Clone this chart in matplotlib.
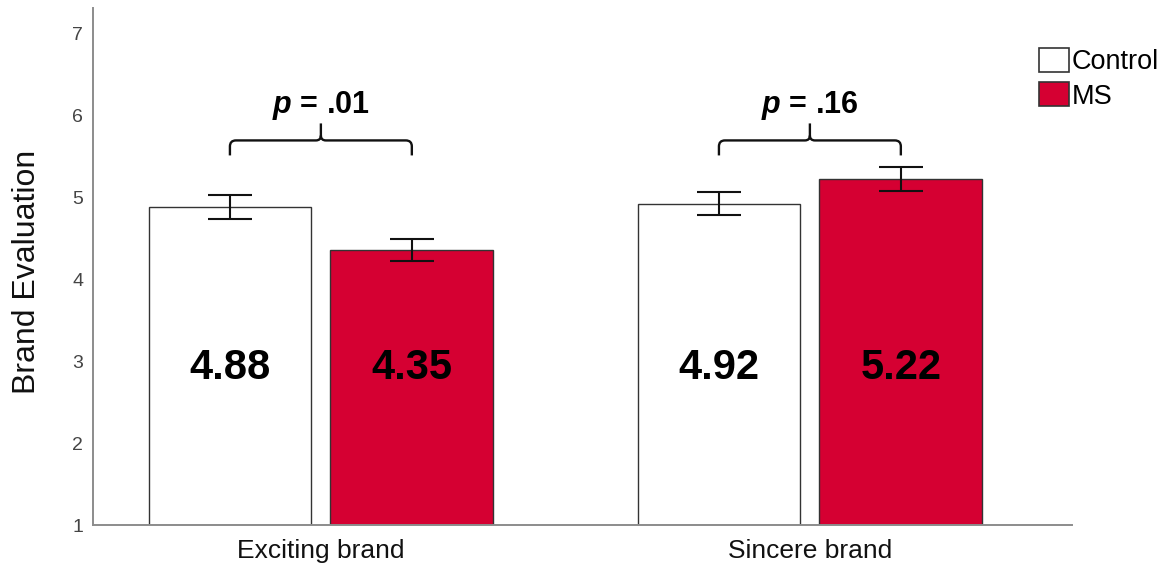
import matplotlib
matplotlib.use('Agg')
import matplotlib.pyplot as plt
from matplotlib.patches import Patch, PathPatch
from matplotlib.path import Path
import numpy as np

plt.rcParams['font.family'] = ['Liberation Sans', 'DejaVu Sans']
plt.rcParams['mathtext.fontset'] = 'custom'
plt.rcParams['mathtext.rm'] = 'Liberation Sans:bold'
plt.rcParams['mathtext.it'] = 'Liberation Sans:italic:bold'
plt.rcParams['mathtext.bf'] = 'Liberation Sans:bold'

# ---- data ----
categories = ['Exciting brand', 'Sincere brand']
groups = ['Control', 'MS']
control_means = [4.88, 4.92]
ms_means = [4.35, 5.22]
control_err = [0.15, 0.135]
ms_err = [0.135, 0.145]
p_values = ['.01', '.16']
yticks = [1, 2, 3, 4, 5, 6, 7]

bar_colors = ['white', '#D50032']
edge_color = '#333333'

W, H = 1163, 565
fig = plt.figure(figsize=(W / 100, H / 100), dpi=100)
ax = fig.add_axes([93 / W, 40 / H, 979 / W, 517 / H])

x = np.arange(len(categories))
off = 0.186
bw = 0.333
xlim = (-0.466, 1.536)
ylim = (1, 7.305)
ax.set_xlim(*xlim)
ax.set_ylim(*ylim)

series = [(control_means, control_err), (ms_means, ms_err)]
for i, (means, errs) in enumerate(series):
    xpos = x + (i * 2 - 1) * off
    means = np.array(means)
    ax.bar(xpos, means - ylim[0], bottom=ylim[0], width=bw, color=bar_colors[i],
           edgecolor=edge_color, linewidth=1.0, zorder=2, label=groups[i])
    ax.errorbar(xpos, means, yerr=errs, fmt='none', ecolor='#111111',
                elinewidth=1.5, capsize=16, capthick=1.5, zorder=3)
    for xp, m in zip(xpos, means):
        ax.text(xp, 2.91, f'{m:.2f}', ha='center', va='center', fontsize=30,
                fontweight='bold', color='black', zorder=4)

# braces
px_x = 979 / (xlim[1] - xlim[0])
px_y = 517 / (ylim[1] - ylim[0])
rx, ry = 6 / px_x, 6 / px_y
tipx, tipy = 5 / px_x, 5 / px_y
y_h = 5.69
y_b = y_h - 15 / px_y
y_tip = y_h + 17 / px_y
for xc, pv in zip(x, p_values):
    x0, x1 = xc - off, xc + off
    xm = xc
    verts = [
        (x0, y_b), (x0, y_h - ry), (x0, y_h), (x0 + rx, y_h),
        (xm - tipx, y_h), (xm, y_h), (xm, y_h + tipy), (xm, y_tip),
        (xm, y_h + tipy), (xm, y_h), (xm + tipx, y_h),
        (x1 - rx, y_h), (x1, y_h), (x1, y_h - ry), (x1, y_b),
    ]
    codes = [
        Path.MOVETO, Path.LINETO, Path.CURVE3, Path.CURVE3,
        Path.LINETO, Path.CURVE3, Path.CURVE3, Path.LINETO,
        Path.MOVETO, Path.CURVE3, Path.CURVE3,
        Path.LINETO, Path.CURVE3, Path.CURVE3, Path.LINETO,
    ]
    ax.add_patch(PathPatch(Path(verts, codes), facecolor='none',
                           edgecolor='#111111', linewidth=1.7, zorder=3,
                           capstyle='butt', joinstyle='round'))
    ax.text(xm, 6.11, r'$\mathit{p}$ = ' + pv, ha='center', va='center',
            fontsize=22, fontweight='bold', color='black')

# axes styling
for s in ['top', 'right']:
    ax.spines[s].set_visible(False)
for s in ['left', 'bottom']:
    ax.spines[s].set_color('#8c8c8c')
    ax.spines[s].set_linewidth(1.4)
    ax.spines[s].set_zorder(5)

ax.set_yticks(yticks)
ax.set_yticklabels([str(t) for t in yticks])
ax.set_xticks(x)
ax.set_xticklabels(categories)
ax.tick_params(axis='y', length=0, pad=7, labelsize=14, labelcolor='#444444')
ax.tick_params(axis='x', length=0, pad=10, labelsize=19, labelcolor='#111111')
ax.set_ylabel('Brand Evaluation', fontsize=23, color='#111111')
ax.yaxis.set_label_coords(-0.052, 0.49)

handles = [Patch(facecolor=bar_colors[i], edgecolor='#333333', linewidth=1.2)
           for i in range(2)]
fig.legend(handles, groups, loc='upper left',
           bbox_to_anchor=(1039 / W, 1 - 48 / H), frameon=False,
           fontsize=19.5, handlelength=1.1, handleheight=1.0,
           handletextpad=0.1, labelspacing=0.25, borderpad=0, borderaxespad=0)

fig.savefig('out.png', dpi=100, facecolor='white')
